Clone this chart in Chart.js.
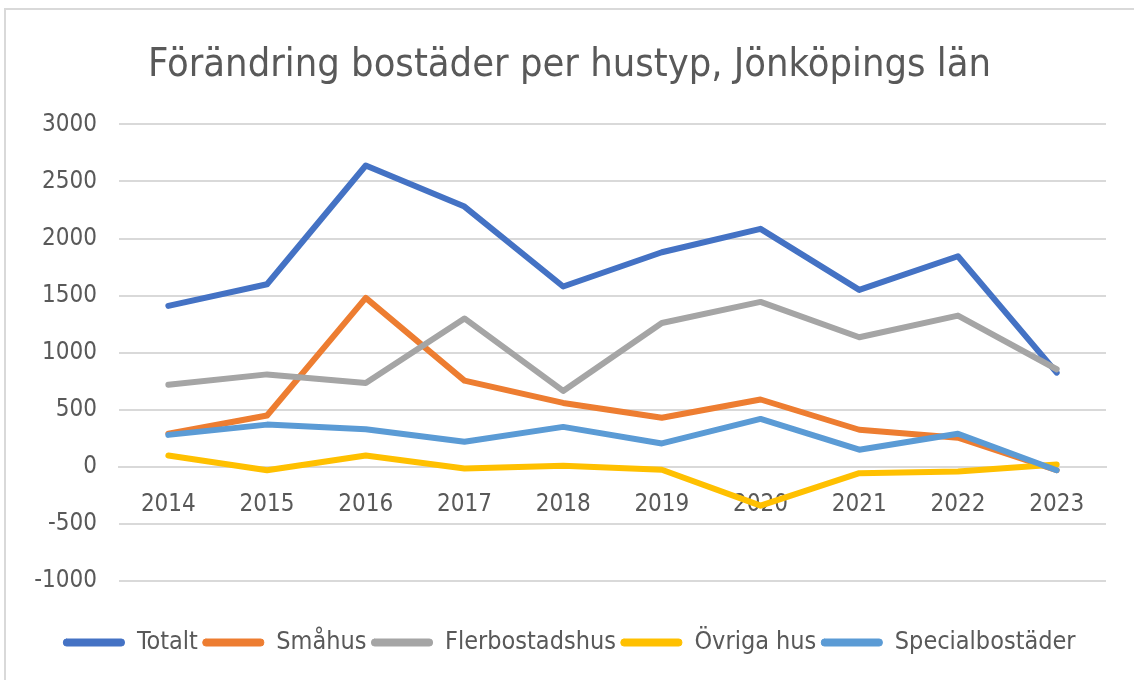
<!DOCTYPE html>
<html>
<head>
<meta charset="utf-8">
<script src="https://cdn.jsdelivr.net/npm/chart.js@4.4.1/dist/chart.umd.min.js"></script>
<style>
    body { margin: 0; background: #fff; }
    #frame {
        position: absolute; left: 4px; top: 8px;
        width: 1200px; height: 720px;
        border: 2px solid #d9d9d9;
    }
    #wrap { position: absolute; left: 0; top: 0; width: 1134px; height: 680px; }
</style>
</head>
<body>
<div id="frame"></div>
<div id="wrap"><canvas id="housingChart"></canvas></div>
<script>
const years = ['2014', '2015', '2016', '2017', '2018', '2019', '2020', '2021', '2022', '2023'];

const totalt = [1410, 1600, 2640, 2280, 1580, 1880, 2085, 1550, 1845, 825];
const smahus = [290, 450, 1480, 755, 560, 430, 590, 325, 255, -30];
const flerbostadshus = [720, 810, 735, 1300, 665, 1260, 1445, 1135, 1325, 855];
const ovrigaHus = [100, -30, 100, -15, 10, -25, -340, -55, -40, 20];
const specialbostader = [280, 370, 330, 220, 350, 205, 420, 150, 290, -30];

const seriesNames = ['Totalt', 'Småhus', 'Flerbostadshus', 'Övriga hus', 'Specialbostäder'];
const seriesColors = ['#4472C4', '#ED7D31', '#A5A5A5', '#FFC000', '#5B9BD5'];
const seriesData = [totalt, smahus, flerbostadshus, ovrigaHus, specialbostader];

const fontFamily = '"DejaVu Sans Condensed", "Open Sans", sans-serif';
const textColor = '#595959';

const datasets = seriesNames.map((name, i) => ({
    label: name,
    data: seriesData[i],
    borderColor: seriesColors[i],
    backgroundColor: seriesColors[i],
    borderWidth: 6,
    borderCapStyle: 'round',
    borderJoinStyle: 'round',
    pointRadius: 0,
    tension: 0,
    order: seriesNames.length - i   // later series drawn on top, as in Excel
}));

const ctx = document.getElementById('housingChart').getContext('2d');

new Chart(ctx, {
    type: 'line',
    data: {
        labels: years,
        datasets: datasets
    },
    options: {
        responsive: true,
        maintainAspectRatio: false,
        animation: false,
        layout: {
            padding: { left: 33, right: 28, top: 14, bottom: 15 }
        },
        plugins: {
            title: {
                display: true,
                text: 'Förändring bostäder per hustyp, Jönköpings län',
                color: textColor,
                font: { family: fontFamily, size: 39.5, weight: 'normal' },
                padding: { top: 28, bottom: 35 }
            },
            legend: {
                position: 'bottom',
                labels: {
                    color: textColor,
                    font: { family: fontFamily, size: 25 },
                    boxWidth: 61,
                    boxHeight: 7,
                    padding: 5,
                    useBorderRadius: true,
                    borderRadius: 3,
                    // thin outline so the swatch stays a slim line
                    generateLabels: (chart) =>
                        Chart.defaults.plugins.legend.labels.generateLabels(chart)
                            .map(item => ({ ...item, lineWidth: 1 })),
                    sort: (a, b) => a.datasetIndex - b.datasetIndex
                }
            },
            tooltip: { enabled: false }
        },
        scales: {
            x: {
                position: { y: 0 },
                offset: true,
                grid: { display: false },
                border: { color: '#d9d9d9', width: 2 },
                ticks: {
                    color: textColor,
                    font: { family: fontFamily, size: 24 },
                    padding: 16
                }
            },
            // empty axis only used to keep space between plot and legend
            gap: {
                type: 'category',
                position: 'bottom',
                grid: { display: false },
                border: { display: false },
                ticks: { display: false },
                afterFit: (scale) => { scale.height = 44; }
            },
            y: {
                min: -1000,
                max: 3000,
                afterFit: (scale) => { scale.width = 86; },
                grid: {
                    color: '#d9d9d9',
                    lineWidth: 2,
                    drawTicks: false
                },
                border: { display: false },
                ticks: {
                    stepSize: 500,
                    color: textColor,
                    font: { family: fontFamily, size: 24 },
                    padding: 22,
                    callback: (value) => String(value)
                }
            }
        }
    }
});
</script>
</body>
</html>
